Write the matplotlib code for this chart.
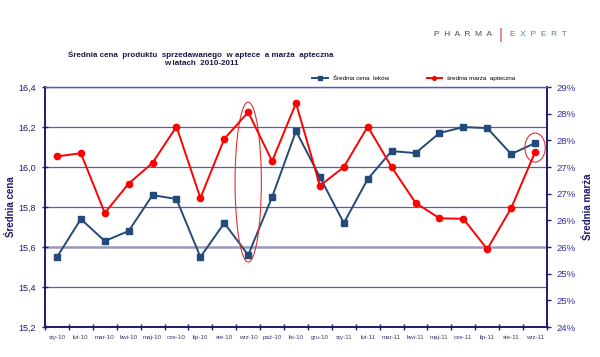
import matplotlib
matplotlib.use("Agg")
import matplotlib.pyplot as plt
from matplotlib.patches import Ellipse
import numpy as np

plt.rcParams['font.family'] = ['Liberation Sans', 'DejaVu Sans']

miesiace = ['sty-10', 'lut-10', 'mar-10', 'kwi-10', 'maj-10', 'cze-10', 'lip-10',
            'sie-10', 'wrz-10', 'paź-10', 'lis-10', 'gru-10', 'sty-11', 'lut-11',
            'mar-11', 'kwi-11', 'maj-11', 'cze-11', 'lip-11', 'sie-11', 'wrz-11']
cena = [15.55, 15.74, 15.63, 15.68, 15.86, 15.84, 15.55, 15.72, 15.56, 15.85, 16.18,
        15.95, 15.72, 15.94, 16.08, 16.07, 16.17, 16.20, 16.195, 16.065, 16.12]
marza = [27.20, 27.26, 26.14, 26.69, 27.08, 27.76, 26.42, 27.53, 28.03, 27.11, 28.20,
         26.65, 27.00, 27.76, 27.00, 26.33, 26.04, 26.03, 25.46, 26.23, 27.28]

granat = '#1c1c6e'
siatka = '#5a5ab8'
niebieski = '#234a78'

fig = plt.figure(figsize=(6, 3.57), dpi=100)
ax = fig.add_axes([0.075, 0.084, 0.8367, 0.672])
ax2 = ax.twinx()

x = np.arange(len(miesiace))
ax.plot(x, cena, color=niebieski, marker='s', markersize=4, linewidth=1.4,
        label='Średnia cena  leków', zorder=3)
ax2.plot(x, marza, color='#ff0000', marker='o', markersize=4.5, linewidth=1.4,
         label='średnia marża  apteczna', zorder=3)

ax.set_xlim(-0.5, len(miesiace) - 0.5)
ax.set_ylim(15.2, 16.4)
ax.set_yticks(np.arange(15.2, 16.41, 0.2))
ax.set_yticklabels([f'{v:.1f}'.replace('.', ',') for v in np.arange(15.2, 16.41, 0.2)],
                   fontsize=6.5, color=granat)
ax.set_xticks(np.arange(-0.5, len(miesiace), 1))
ax.set_xticklabels([])
ax.set_xticks(x, minor=True)
ax.set_xticklabels(miesiace, minor=True, fontsize=4.5, color='#3a3a6a')
ax.tick_params(axis='x', which='major', direction='inout', length=4, color=granat, width=1)
ax.tick_params(axis='x', which='minor', length=0, pad=6)
ax.tick_params(axis='y', direction='inout', length=5, color=granat, width=1, pad=4)

ax.grid(axis='y', color=siatka, linewidth=0.9)
ax.set_axisbelow(True)
gl = ax.get_ygridlines()
gl[2].set_color('#9a98b8')
gl[2].set_linewidth(1.8)

ax2.set_ylim(24, 28.5)
pr = np.arange(24, 28.51, 0.5)
ax2.set_yticks(pr)
ax2.set_yticklabels([f'{int(np.floor(v + 0.5))}%' for v in pr], fontsize=6.8, color='#3030a0')
ax2.tick_params(axis='y', direction='out', length=3, color=granat, width=1, pad=4)

for a in (ax, ax2):
    for s in ('left', 'bottom', 'right'):
        a.spines[s].set_color(granat)
        a.spines[s].set_linewidth(1.2)
    a.spines['top'].set_color(siatka)
    a.spines['top'].set_linewidth(0.9)

ax.set_ylabel('Średnia cena', fontsize=7, color=granat, fontweight='bold', labelpad=2)
ax2.set_ylabel('Średnia marża', fontsize=7, color=granat, fontweight='bold', labelpad=5,
               rotation=90)

# wyroznienia
ax.add_patch(Ellipse((8, 15.925), 1.1, 0.8, fill=False, edgecolor='#e03030', linewidth=0.8, zorder=4))
ax.add_patch(Ellipse((20, 16.0975), 0.85, 0.145, fill=False, edgecolor='#e03030', linewidth=0.8, zorder=4))

h1, l1 = ax.get_legend_handles_labels()
h2, l2 = ax2.get_legend_handles_labels()
fig.legend(h1 + h2, l1 + l2, loc='center', bbox_to_anchor=(0.69, 0.78), ncol=2, frameon=False,
           fontsize=4.5, handlelength=2.5, columnspacing=6, markerscale=0.6)

fig.text(0.335, 0.835, 'Średnia cena  produktu  sprzedawanego  w aptece  a marża  apteczna\nw latach  2010-2011',
         ha='center', va='center', fontsize=5.8, fontweight='bold', color='#1a1a4a',
         linespacing=1.15)

fig.text(0.82, 0.902, 'P  H  A  R  M  A', ha='right', va='center', fontsize=6, color='#4a4a5a')
fig.text(0.85, 0.902, 'E  X  P  E  R  T', ha='left', va='center', fontsize=6, color='#5a7a9a')
fig.text(0.835, 0.902, '|', ha='center', va='center', fontsize=11, color='#c05050')

fig.savefig('out.png', dpi=100)
